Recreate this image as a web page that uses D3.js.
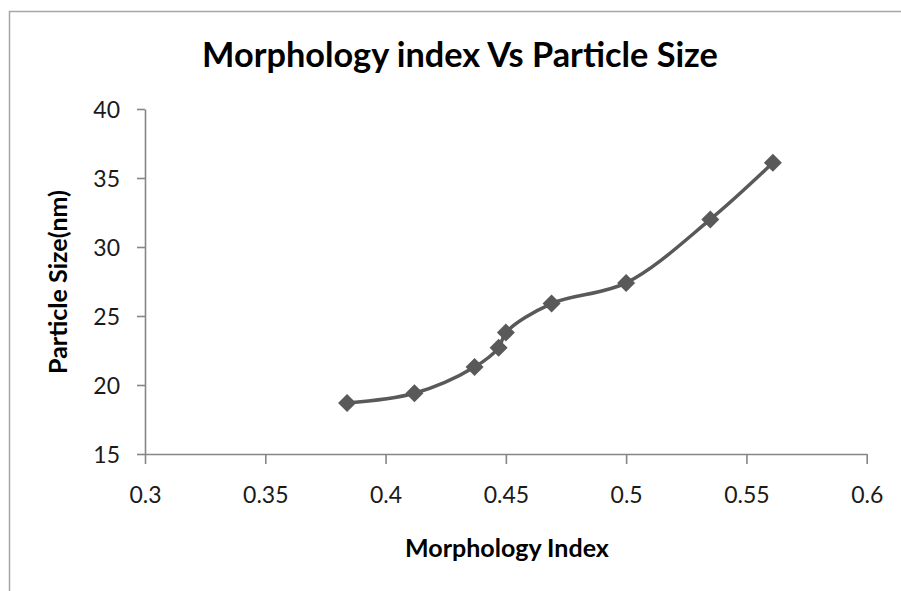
<!DOCTYPE html>
<html>
<head>
<meta charset="utf-8">
<script src="https://cdn.jsdelivr.net/npm/d3@7"></script>
<style>
  body { margin: 0; background: #fff; overflow: hidden; }
  svg { display: block; font-family: Lato, "Open Sans", sans-serif; }
</style>
</head>
<body>
<div id="chart"></div>
<script>
// values
var morphIndex   = [0.384, 0.412, 0.437, 0.447, 0.450, 0.469, 0.500, 0.535, 0.561];
var particleSize = [18.7, 19.4, 21.3, 22.7, 23.8, 25.9, 27.4, 32.0, 36.1];
var xTicks = [0.3, 0.35, 0.4, 0.45, 0.5, 0.55, 0.6];
var yTicks = [15, 20, 25, 30, 35, 40];
var chartTitle = "Morphology index Vs Particle Size";
var xTitle = "Morphology Index";
var yTitle = "Particle Size(nm)";

var W = 901, H = 591;
var plotL = 145, plotR = 866.7, plotT = 109, plotB = 454;

var svg = d3.select("#chart").append("svg")
    .attr("width", W)
    .attr("height", H);

// outer chart border, only left and top show in the picture
svg.append("path")
    .attr("d", "M9.5," + H + "V11.5H" + W)
    .attr("fill", "none")
    .attr("stroke", "#a6a6a6")
    .attr("stroke-width", 1.5);

var x = d3.scaleLinear().domain([0.3, 0.6]).range([plotL, plotR]);
var y = d3.scaleLinear().domain([15, 40]).range([plotB, plotT]);

var xAxis = svg.append("g")
    .attr("transform", "translate(0," + plotB + ")")
    .call(d3.axisBottom(x).tickValues(xTicks).tickSize(10).tickSizeOuter(0)
      .tickFormat(function(d) { return String(+d.toFixed(2)); }));
var yAxis = svg.append("g")
    .attr("transform", "translate(" + plotL + ",0)")
    .call(d3.axisLeft(y).tickValues(yTicks).tickSize(8).tickSizeOuter(0));

[xAxis, yAxis].forEach(function(a) {
  a.select(".domain").attr("stroke", "#868686").attr("stroke-width", 1.6);
  a.selectAll(".tick line").attr("stroke", "#868686").attr("stroke-width", 1.6);
  a.selectAll(".tick text")
    .attr("fill", "#1a1a1a")
    .style("font-size", "23px")
    .style("font-family", "Lato, 'Open Sans', sans-serif");
});
xAxis.selectAll(".tick text").attr("y", 49).attr("dy", null);
yAxis.selectAll(".tick text").attr("x", -25).attr("dy", "0.36em");

// smoothed line like Excel
var pts = morphIndex.map(function(m, i) { return [m, particleSize[i]]; });
var line = d3.line()
    .x(function(d) { return x(d[0]); })
    .y(function(d) { return y(d[1]); })
    .curve(d3.curveCatmullRom.alpha(0.5));

svg.append("path")
    .datum(pts)
    .attr("d", line)
    .attr("fill", "none")
    .attr("stroke", "#595959")
    .attr("stroke-width", 3.5)
    .attr("stroke-linejoin", "round");

svg.selectAll(".mk")
    .data(pts)
    .enter().append("path")
    .attr("class", "mk")
    .attr("transform", function(d) { return "translate(" + x(d[0]) + "," + y(d[1]) + ")"; })
    .attr("d", "M0,-9L9,0L0,9L-9,0Z")
    .attr("fill", "#595959");

// text helper: fit bold text to the width measured in the picture
function fitText(sel, size, target) {
  sel.style("font-size", size + "px");
  var len = sel.node().getComputedTextLength();
  sel.style("font-size", (size * target / len).toFixed(2) + "px");
  return sel;
}

var t = svg.append("text")
    .attr("x", 460).attr("y", 66.5)
    .attr("text-anchor", "middle")
    .attr("font-weight", "bold")
    .attr("fill", "#000")
    .text(chartTitle);
fitText(t, 32, 516);

var xt = svg.append("text")
    .attr("x", 507).attr("y", 557)
    .attr("text-anchor", "middle")
    .attr("font-weight", "bold")
    .attr("fill", "#000")
    .text(xTitle);
fitText(xt, 23, 204);

var yt = svg.append("text")
    .attr("transform", "translate(67,282) rotate(-90)")
    .attr("text-anchor", "middle")
    .attr("font-weight", "bold")
    .attr("fill", "#000")
    .text(yTitle);
fitText(yt, 23, 184);
</script>
</body>
</html>
